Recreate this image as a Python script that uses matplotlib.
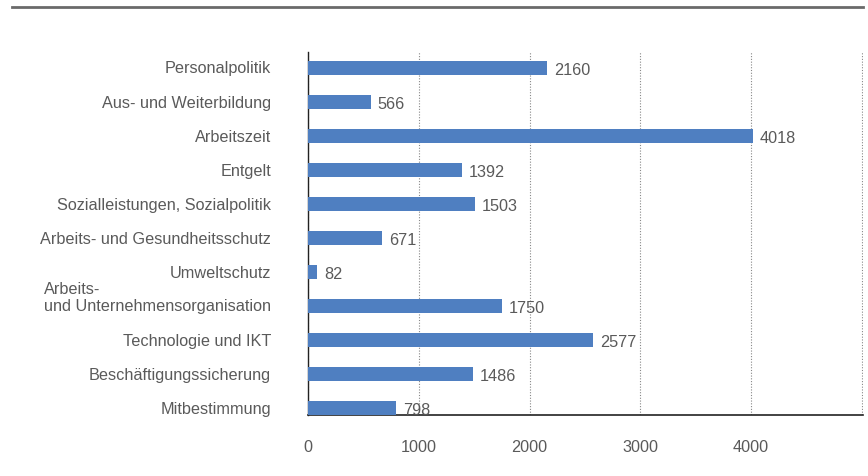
import matplotlib
matplotlib.use("Agg")
import matplotlib.pyplot as plt
from matplotlib.lines import Line2D
from matplotlib import transforms

categories = ["Personalpolitik", "Aus- und Weiterbildung", "Arbeitszeit", "Entgelt",
              "Sozialleistungen, Sozialpolitik", "Arbeits- und Gesundheitsschutz",
              "Umweltschutz", "Arbeits-\nund Unternehmensorganisation",
              "Technologie und IKT", "Beschäftigungssicherung", "Mitbestimmung"]
values = [2160, 566, 4018, 1392, 1503, 671, 82, 1750, 2577, 1486, 798]
xticks = [0, 1000, 2000, 3000, 4000]

plt.rcParams['font.family'] = ['Liberation Sans', 'DejaVu Sans']
W, H = 868, 477
fig = plt.figure(figsize=(W/100, H/100), dpi=100)
ax = fig.add_axes([308/W, 1-416/H, (863-308)/W, (416-53)/H])

TXT = "#5a5a5a"
FS = 11.7
pos = list(range(len(categories)))
ax.barh(pos, values, height=0.41, color="#4F7FC1", zorder=3)
ax.set_ylim(10.2, -0.47)
ax.set_xlim(0, 5010)

for p, v in zip(pos, values):
    ax.annotate(str(v), (v, p), xytext=(5, -1), textcoords="offset points",
                va="center", ha="left", fontsize=FS, color=TXT)

ax.set_xticks(xticks + [5000])
ax.set_xticklabels([str(t) for t in xticks] + [""], fontsize=FS, color=TXT)
ax.tick_params(axis="x", length=0, pad=17)
ax.tick_params(axis="y", length=0)
ax.set_yticks(pos)
ax.set_yticklabels([])
ax.grid(axis="x", linestyle=(0, (1, 1.5)), color="#888888", linewidth=0.8, zorder=0)

trans = transforms.blended_transform_factory(fig.transFigure, ax.transData)
for p, c in zip(pos, categories):
    if "\n" in c:
        t = transforms.offset_copy(trans, fig=fig, x=0, y=9, units="dots")
        ax.text(271/W, p, c, transform=t, ha="right", va="center",
                multialignment="left", fontsize=FS, color=TXT, linespacing=1.2)
    else:
        ax.text(271/W, p, c, transform=trans, ha="right", va="center",
                fontsize=FS, color=TXT)

for s in ["top", "right"]:
    ax.spines[s].set_visible(False)
ax.spines["left"].set_color("#222222")
ax.spines["bottom"].set_color("#222222")
ax.spines["left"].set_linewidth(1.0)
ax.spines["bottom"].set_linewidth(1.2)

fig.add_artist(Line2D([12/W, 863/W], [1-7.7/H, 1-7.7/H], transform=fig.transFigure,
                      color="#6a6a6a", linewidth=2))

fig.savefig("out.png", dpi=100)
